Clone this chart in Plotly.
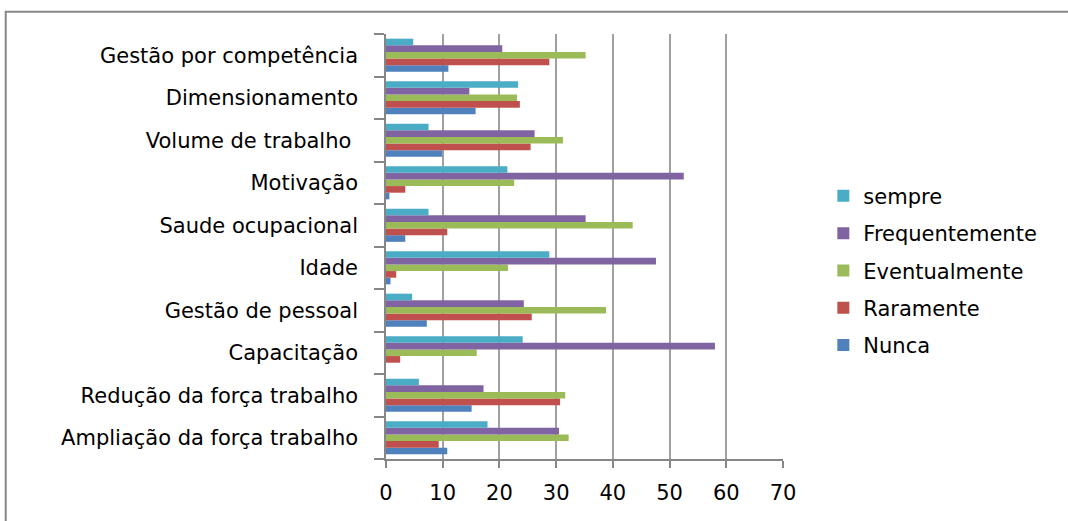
import plotly.graph_objects as go

# Categories listed bottom-to-top (Plotly draws the first category at the bottom)
categories = [
    "Ampliação da força trabalho",
    "Redução da força trabalho",
    "Capacitação",
    "Gestão de pessoal",
    "Idade",
    "Saude ocupacional",
    "Motivação",
    "Volume de trabalho ",
    "Dimensionamento",
    "Gestão por competência",
]

nunca =          [10.8, 15.1, 0.0,  7.2,  0.8,  3.4,  0.6,  9.9, 15.8, 11.0]
raramente =      [9.3,  30.7, 2.5,  25.7, 1.8,  10.8, 3.4,  25.5, 23.6, 28.8]
eventualmente =  [32.2, 31.6, 16.0, 38.8, 21.5, 43.5, 22.6, 31.2, 23.1, 35.2]
frequentemente = [30.5, 17.2, 58.0, 24.3, 47.6, 35.2, 52.5, 26.2, 14.7, 20.5]
sempre =         [17.9, 5.8,  24.1, 4.6,  28.8, 7.5,  21.4, 7.5,  23.3, 4.8]

x_ticks = [0, 10, 20, 30, 40, 50, 60, 70]

# (name, values, colour, legend rank)
series = [
    ("Nunca", nunca, "#4F81BD", 5),
    ("Raramente", raramente, "#C0504D", 4),
    ("Eventualmente", eventualmente, "#9BBB59", 3),
    ("Frequentemente", frequentemente, "#8064A2", 2),
    ("sempre", sempre, "#4BACC6", 1),
]

FONT = "DejaVu Sans"

fig = go.Figure()
for i, (name, vals, color, rank) in enumerate(series):
    fig.add_trace(go.Bar(
        y=categories, x=vals, name=name, orientation="h",
        marker=dict(color=color, line=dict(width=0)),
        legendgroup=f"g{i}", legendrank=rank,
    ))

# plot area in pixels
W, H = 1068, 521
L, R = 386, 782.7
T, B = 34.3, 459.3

fig.update_layout(
    width=W, height=H,
    margin=dict(l=L, r=W - R, t=T, b=H - B, pad=0),
    paper_bgcolor="white", plot_bgcolor="white",
    barmode="group", bargap=0.22, bargroupgap=0,
    font=dict(family=FONT, color="#000000"),
    showlegend=True,
    legend=dict(
        x=(823 - L) / (R - L), xanchor="left",
        y=(B - 176) / (B - T), yanchor="top",
        traceorder="grouped", tracegroupgap=7,
        font=dict(family=FONT, size=21, color="#000000"),
        bgcolor="rgba(0,0,0,0)",
    ),
    xaxis=dict(
        range=[0, 70], tickvals=x_ticks, ticktext=[str(v) for v in x_ticks],
        showgrid=True, gridcolor="#a0a0a0", gridwidth=1.5,
        showline=True, linecolor="#868686", linewidth=1.5,
        ticks="outside", ticklen=7, tickcolor="#868686", tickwidth=1.5,
        tickfont=dict(family=FONT, size=21, color="#000000"),
        ticklabelstandoff=7, zeroline=False,
    ),
    yaxis=dict(
        categoryorder="array", categoryarray=categories,
        showgrid=False, showline=True, linecolor="#868686", linewidth=1.5,
        ticks="outside", ticklen=10, tickcolor="#868686", tickwidth=1.5,
        tickson="boundaries",
        tickfont=dict(family=FONT, size=21, color="#000000"),
        ticklabelstandoff=22,
    ),
)

# outer chart frame
def px_x(p):
    return (p - L) / (R - L)

def px_y(p):
    return (B - p) / (B - T)

fig.add_shape(
    type="rect", xref="paper", yref="paper",
    x0=px_x(6), x1=px_x(1080), y0=px_y(530), y1=px_y(12),
    line=dict(color="#868686", width=2), fillcolor="rgba(0,0,0,0)", layer="below",
)

fig.write_html("out.html")
